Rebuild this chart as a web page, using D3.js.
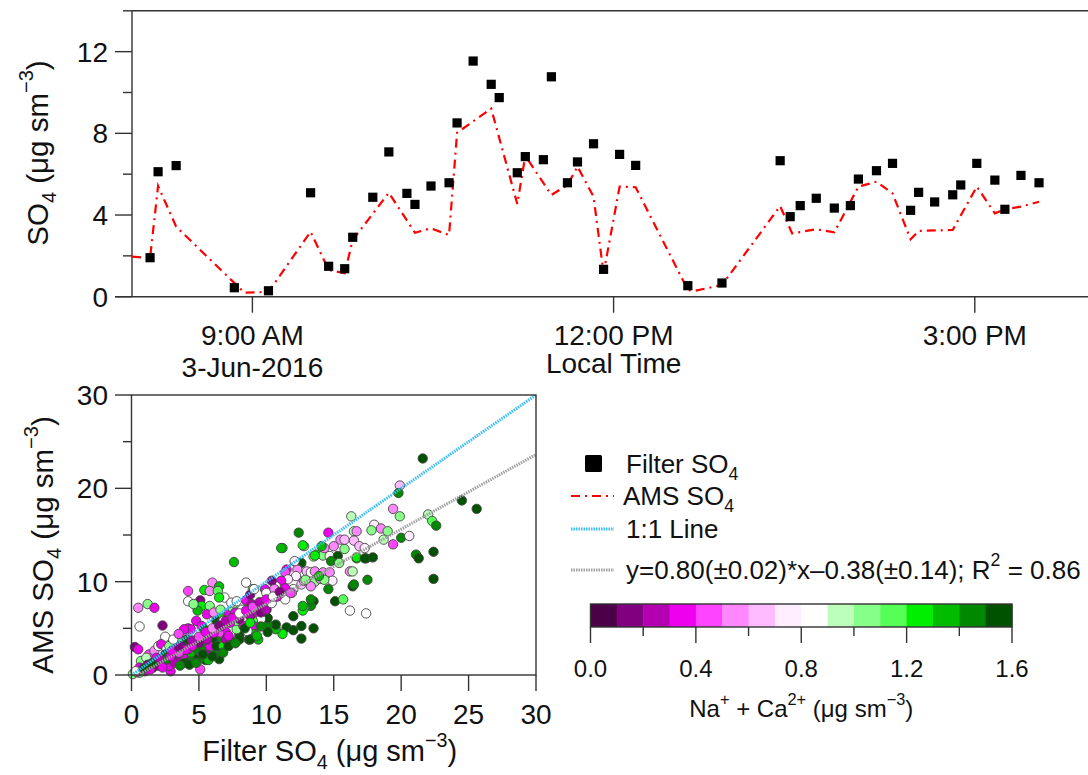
<!DOCTYPE html>
<html>
<head>
<meta charset="utf-8">
<script src="https://cdn.jsdelivr.net/npm/d3@7"></script>
<style>
  html, body { margin: 0; padding: 0; background: #fff; }
  svg { display: block; }
  text { font-family: "Liberation Sans", Arial, sans-serif; fill: #111; }
</style>
</head>
<body>
<svg id="chart" width="1088" height="775"></svg>
<script>
// ---------------- data ----------------
const filterTimes = ["08:09","08:13","08:22","08:51","09:08","09:29","09:38","09:46","09:50","10:00","10:08","10:17","10:21","10:29","10:38","10:42","10:50","10:59","11:03","11:12","11:16","11:25","11:29","11:37","11:42","11:50","11:55","12:03","12:11","12:37","12:54","13:23","13:28","13:33","13:41","13:50","13:58","14:02","14:11","14:19","14:28","14:32","14:40","14:49","14:53","15:01","15:10","15:15","15:23","15:32"];
const filterSO4 = [1.91,6.12,6.42,0.44,0.29,5.09,1.49,1.37,2.91,4.87,7.09,5.06,4.52,5.42,5.58,8.51,11.54,10.40,9.75,6.07,6.86,6.71,10.77,5.58,6.60,7.49,1.34,6.97,6.43,0.54,0.67,6.66,3.92,4.46,4.82,4.34,4.46,5.76,6.17,6.53,4.23,5.11,4.64,4.99,5.47,6.53,5.71,4.28,5.94,5.58];

const amsTimes = ["08:00","08:09","08:13","08:22","08:56","09:08","09:29","09:38","09:46","09:50","10:08","10:21","10:29","10:38","10:42","10:59","11:12","11:16","11:29","11:37","11:42","11:50","11:55","12:03","12:11","12:37","12:40","12:54","13:23","13:29","13:41","13:50","14:02","14:11","14:19","14:28","14:32","14:49","15:01","15:10","15:15","15:23","15:32"];
const amsSO4 = [1.96,1.90,5.42,3.43,0.20,0.23,3.18,1.31,1.15,2.78,5.09,3.13,3.35,3.02,8.03,9.21,4.54,6.90,4.98,5.47,6.37,4.90,1.15,5.39,5.36,0.33,0.28,0.57,4.44,3.10,3.30,3.15,5.39,5.63,5.06,2.81,3.22,3.27,5.39,4.08,4.28,4.41,4.65];

const topYTicks = [0, 4, 8, 12];
const topYMinorTicks = [2, 6, 10, 14];
const topXTicks = ["09:00", "12:00", "15:00"];
const topXTickLabels = ["9:00 AM", "12:00 PM", "3:00 PM"];

// scatter: [Filter SO4, AMS SO4, Na+ + Ca2+]
const scatterPoints = [
[11.2,13.6,1.25],[12.8,13.8,1.05],[7.6,12.1,1.35],[13.7,12.9,1.25],[14.2,12.8,1.05],[14.7,12.75,0.85],[15.3,12.75,1.55],[16.7,12.5,1.35],[17.4,12.5,1.55],[17.9,12.6,1.55],[21.1,12.9,1.45],[14.8,12.2,1.45],[15.4,12.0,1.05],[16.2,11.1,0.55],[16.4,11.1,0.95],[12.2,12.1,0.85],[12.6,12.0,1.55],[11.5,11.3,0.35],[11.4,11.0,0.45],[12.3,11.3,0.55],[13.0,11.1,0.65],[13.3,11.0,0.85],[13.6,11.1,0.55],[14.2,11.0,0.55],[14.7,11.0,0.55],[12.2,10.6,0.75],[11.6,10.25,0.75],[11.1,10.1,0.35],[10.7,9.5,0.85],[10.4,10.1,0.15],[9.9,9.2,0.35],[10.0,8.8,0.85],[10.6,9.2,0.55],[10.9,8.6,0.85],[11.5,8.8,0.85],[12.0,9.2,0.85],[12.6,9.7,0.65],[12.8,10.1,0.65],[13.6,10.0,1.05],[14.0,10.3,0.55],[14.9,10.1,0.75],[15.1,7.9,1.55],[15.7,8.1,1.15],[16.4,9.5,1.55],[16.5,9.7,1.45],[16.2,6.9,0.85],[17.4,6.6,0.85],[17.5,10.2,1.45],[13.5,7.9,1.55],[13.3,7.4,1.45],[12.8,7.2,1.15],[12.7,6.9,1.25],[12.0,6.3,1.55],[12.6,5.25,1.55],[12.6,3.9,1.55],[13.5,5.0,1.55],[11.5,5.1,1.55],[11.2,4.4,1.25],[10.7,4.9,1.35],[10.7,5.4,1.55],[10.1,5.4,1.45],[10.1,6.1,1.55],[10.0,7.0,1.55],[9.5,6.5,0.35],[9.6,6.0,0.85],[9.0,5.8,1.15],[9.1,5.2,0.35],[9.1,4.4,1.35],[9.4,3.8,1.35],[8.7,3.8,1.55],[8.0,4.25,1.55],[8.0,3.8,1.55],[7.5,3.6,1.45],[7.3,3.5,1.55],[7.8,4.9,1.05],[7.0,4.6,0.35],[6.5,4.5,0.45],[6.4,3.6,1.45],[6.5,1.7,1.55],[6.3,2.4,1.45],[5.8,2.0,1.55],[5.6,2.2,0.25],[5.5,1.6,1.55],[5.1,1.75,1.45],[5.1,0.6,0.45],[4.7,1.75,1.55],[4.3,2.0,1.45],[4.4,2.4,1.35],[4.2,2.75,0.35],[3.8,2.0,0.35],[3.6,2.4,0.45],[3.3,1.7,0.25],[2.9,0.4,0.35],[2.8,1.0,0.35],[2.3,1.3,0.25],[2.0,1.0,1.55],[1.6,0.8,0.15],[1.4,0.6,0.35],[1.0,0.4,0.35],[0.6,0.25,1.15],[0.1,0.1,1.05],[0.4,0.3,0.45],[1.0,1.0,0.35],[1.3,2.2,0.45],[0.25,3.0,0.15],[0.5,2.75,0.35],[0.6,5.2,0.85],[0.5,7.2,0.55],[1.2,7.6,1.05],[1.7,7.2,0.35],[2.3,5.3,0.15],[2.5,4.1,0.85],[3.6,3.9,1.15],[3.1,3.5,0.35],[3.95,4.2,0.55],[4.2,5.0,0.35],[4.4,4.9,0.35],[3.9,4.9,0.35],[4.8,5.8,0.35],[5.2,5.25,0.35],[5.4,4.9,1.45],[5.6,4.2,0.35],[5.9,4.4,0.25],[6.0,3.8,1.55],[5.2,3.8,0.35],[4.8,3.5,0.15],[4.4,3.3,0.35],[4.9,2.75,1.45],[4.1,3.8,1.55],[5.3,3.1,1.45],[5.8,3.1,0.35],[6.3,3.1,1.55],[6.8,3.1,1.25],[7.0,3.8,0.25],[7.2,4.2,0.35],[4.2,9.0,0.45],[4.2,7.9,0.85],[5.1,8.0,0.15],[5.4,9.1,1.25],[6.0,9.9,0.55],[6.5,9.5,1.35],[5.8,9.0,0.55],[6.4,9.0,1.15],[6.9,8.3,0.85],[6.5,8.3,1.25],[5.2,7.4,1.25],[5.8,7.4,1.05],[4.9,6.9,1.35],[4.6,7.6,1.05],[5.6,6.5,0.35],[6.2,6.5,0.55],[6.6,6.3,1.25],[6.3,5.8,1.55],[6.8,5.8,0.65],[7.2,6.5,0.35],[7.5,7.2,1.05],[7.4,7.75,0.85],[7.8,7.9,0.85],[8.4,7.0,0.85],[8.5,9.9,0.85],[9.0,9.2,1.05],[8.5,8.0,0.35],[8.9,7.6,0.25],[9.3,7.2,0.35],[9.8,7.75,0.85],[8.8,8.6,0.15],[8.1,6.5,0.55],[7.8,5.8,1.05],[7.3,5.6,0.35],[8.3,5.25,0.35],[8.6,4.7,0.85],[8.0,6.0,0.15],[0.7,1.5,1.05],[1.1,1.85,0.95],[1.7,2.6,0.55],[2.0,3.1,0.85],[2.2,3.3,0.35],[2.6,2.75,0.85],[2.8,3.1,1.05],[3.1,3.8,0.85],[3.5,4.4,0.45],[1.85,1.85,0.35],[2.5,2.2,1.55],[3.0,1.85,0.15],[3.7,3.1,0.15],[3.95,1.3,1.55],[4.3,1.1,1.55],[4.8,1.3,1.45],[5.7,1.6,1.35],[6.0,2.0,1.55],[6.8,2.4,1.45],[5.3,2.2,1.55],[2.1,1.7,0.25],[1.2,1.1,0.15],[0.6,0.8,0.35],[0.3,0.4,0.85],[0.9,0.7,1.55],[1.5,1.25,1.55],[2.7,1.7,1.45],[3.2,1.3,0.25],[3.6,1.0,1.45],[2.3,0.8,0.35],
[14.6,15.25,0.35],[13.5,12.7,1.05],[12.7,13.9,1.25],[11.1,13.6,1.35],[12.4,15.25,1.45],[12.1,12.2,0.75],[15.0,13.8,0.55],[15.8,13.5,1.05],[15.5,14.5,0.55],[15.8,14.5,0.65],[16.3,17.0,0.95],[16.5,15.4,0.95],[16.7,15.4,0.55],[16.5,14.4,0.65],[16.9,13.8,0.65],[17.3,13.6,0.75],[16.7,12.6,1.25],[17.3,12.5,1.55],[18.0,16.1,0.75],[18.5,15.7,0.55],[17.8,15.5,1.05],[19.0,15.4,1.05],[18.7,14.5,0.95],[19.4,14.0,0.45],[19.4,17.8,0.55],[19.9,17.0,1.05],[19.9,20.3,0.65],[19.8,19.5,1.45],[20.0,14.7,1.45],[20.6,14.9,0.75],[21.3,12.5,1.55],[21.6,23.2,1.55],[22.0,17.2,0.95],[22.3,16.5,1.15],[22.6,16.0,1.45],[22.4,13.2,1.55],[22.4,10.3,1.55],[24.5,18.7,1.55],[25.6,17.8,1.55],[14.6,9.2,1.45],[14.3,10.2,1.05],[13.3,9.5,0.55],[12.9,10.2,1.05],[13.9,10.6,1.35],[13.3,8.1,1.45],[12.7,7.4,1.35],[11.9,8.8,0.75],[11.4,8.1,0.85],[14.3,13.6,0.55],[14.1,13.8,1.35],[13.6,12.8,1.25],[12.0,4.8,1.55],[10.1,4.6,1.55],[9.1,9.2,0.85],
[6.1,6.7,0.55],[6.6,7.0,1.05],[7.2,5.9,0.85],[7.7,6.7,0.35],[8.2,7.0,0.85],[8.8,6.3,0.25],[9.2,7.0,0.35],[9.4,7.4,0.45],[9.6,6.7,0.15],[10.0,7.0,0.25],[10.4,7.7,0.85],[10.8,8.4,0.35],[11.1,8.8,0.75],[11.4,9.3,0.35],[11.8,8.8,0.45],[6.6,5.2,0.35],[6.1,4.5,0.35],[5.6,3.8,0.25],[5.0,3.4,0.15],[4.5,3.1,0.35],[4.0,2.7,0.35],[3.5,2.4,0.45],[2.9,2.0,0.35],[7.2,3.1,1.55],[7.7,3.4,1.45],[8.8,3.8,1.55],[9.3,4.2,1.35],[8.4,5.0,1.55],[8.8,5.6,1.25],[9.6,5.2,1.45],
[3.0,2.6,0.35],[3.5,3.0,0.15],[4.5,3.7,0.25],[5.0,4.1,0.45],[5.5,4.6,0.35],[6.0,5.0,0.55],[6.5,5.3,0.15],[7.0,5.8,0.25],[7.5,6.1,0.35],[8.0,6.6,0.85],[8.5,6.9,0.35],[9.0,7.3,0.45],[9.5,7.8,0.25],[10.0,8.1,0.35],[10.5,8.4,0.85],[11.0,8.9,0.15]
];

const scatterXTicks = [0, 5, 10, 15, 20, 25, 30];
const scatterYTicks = [0, 10, 20, 30];
const scatterYMinorTicks = [5, 15, 25];
const fitSlope = 0.80, fitIntercept = -0.38;

const colorbarColors = ["#4b0047","#80007f","#b300b0","#ee00ee","#ff44ff","#ff88ff","#ffbbff","#ffeeff","#ffffff","#bbffbb","#88ff88","#55ff55","#00ee00","#00bb00","#008800","#005200"];
const colorbarTicks = [0, 0.4, 0.8, 1.2, 1.6];
const colorbarMinorTicks = [0.2, 0.6, 1.0, 1.4];

// ---------------- helpers ----------------
const svg = d3.select("#chart");
const parseT = d3.timeParse("%Y-%m-%d %H:%M");
const T = s => parseT("2016-06-03 " + s);
const AX = "#333";
const TICKF = 28, TITLEF = 29.5, LEGF = 26;

function rich(sel, parts, size) {
  let shift = 0;
  parts.forEach(([t, kind]) => {
    const target = kind === "sub" ? size * 0.28 : kind === "sup" ? -size * 0.5 : 0;
    const ts = sel.append("tspan").text(t).attr("dy", target - shift);
    if (kind) ts.attr("font-size", size * 0.68);
    shift = target;
  });
}

// ---------------- top chart ----------------
const tx = d3.scaleTime().domain([T("08:00"), T("16:00")]).range([132, 132 + 8 * 120.4]);
const ty = d3.scaleLinear().domain([0, 14]).range([296.7, 296.7 - 14 * 20.42]);

const defs = svg.append("defs");
defs.append("clipPath").attr("id", "topclip")
  .append("rect").attr("x", 132).attr("y", 8).attr("width", 960).attr("height", 292);

const topG = svg.append("g");
topG.append("line").attr("x1", 132).attr("x2", 1088).attr("y1", ty(14)).attr("y2", ty(14)).attr("stroke", AX).attr("stroke-width", 1.4);
topG.append("line").attr("x1", 132).attr("x2", 132).attr("y1", ty(14)).attr("y2", ty(0)).attr("stroke", AX).attr("stroke-width", 1.4);
topG.append("line").attr("x1", 115).attr("x2", 1088).attr("y1", ty(0)).attr("y2", ty(0)).attr("stroke", AX).attr("stroke-width", 1.4);
topG.selectAll(".ymaj").data(topYTicks).join("line")
  .attr("x1", 115).attr("x2", 132).attr("y1", d => ty(d)).attr("y2", d => ty(d)).attr("stroke", AX).attr("stroke-width", 1.4);
topG.selectAll(".ymin").data(topYMinorTicks).join("line")
  .attr("x1", 123).attr("x2", 132).attr("y1", d => ty(d)).attr("y2", d => ty(d)).attr("stroke", AX).attr("stroke-width", 1.4);
topG.selectAll(".ylab").data(topYTicks).join("text")
  .attr("x", 108).attr("y", d => ty(d) + 10).attr("text-anchor", "end").attr("font-size", TICKF).text(d => d);
topG.selectAll(".xt").data(topXTicks).join("line")
  .attr("x1", d => tx(T(d))).attr("x2", d => tx(T(d))).attr("y1", ty(0)).attr("y2", ty(0) + 16).attr("stroke", AX).attr("stroke-width", 1.4);
topG.selectAll(".xl").data(topXTicks).join("text")
  .attr("x", d => tx(T(d))).attr("y", 345).attr("text-anchor", "middle").attr("font-size", TICKF)
  .text((d, i) => topXTickLabels[i]);
topG.append("text").attr("x", tx(T("09:00"))).attr("y", 377).attr("text-anchor", "middle").attr("font-size", TICKF).text("3-Jun-2016");
topG.append("text").attr("x", tx(T("12:00"))).attr("y", 373).attr("text-anchor", "middle").attr("font-size", TICKF).text("Local Time");
const tyl = topG.append("text").attr("transform", "translate(48,153) rotate(-90)").attr("text-anchor", "middle").attr("font-size", TITLEF);
rich(tyl, [["SO", null], ["4", "sub"], [" (μg sm", null], ["−3", "sup"], [")", null]], TITLEF);

const amsData = amsTimes.map((t, i) => [T(t), amsSO4[i]]);
topG.append("path").datum(amsData).attr("clip-path", "url(#topclip)")
  .attr("d", d3.line().x(d => tx(d[0])).y(d => ty(d[1])))
  .attr("fill", "none").attr("stroke", "#ff0000").attr("stroke-width", 2.2)
  .attr("stroke-dasharray", "9,5,2,5");
const fData = filterTimes.map((t, i) => [T(t), filterSO4[i]]);
topG.selectAll(".sq").data(fData).join("rect")
  .attr("x", d => tx(d[0]) - 4.6).attr("y", d => ty(d[1]) - 4.6).attr("width", 9.2).attr("height", 9.2).attr("fill", "#000");

// ---------------- scatter ----------------
const sx = d3.scaleLinear().domain([0, 30]).range([131.5, 536]);
const sy = d3.scaleLinear().domain([0, 30]).range([675, 395]);
const color = d3.scaleQuantize().domain([0, 1.6]).range(colorbarColors);

defs.append("clipPath").attr("id", "scclip")
  .append("rect").attr("x", sx(0)).attr("y", sy(30)).attr("width", sx(30) - sx(0)).attr("height", sy(0) - sy(30));

const sc = svg.append("g");
sc.selectAll("circle").data(scatterPoints).join("circle")
  .attr("cx", d => sx(d[0])).attr("cy", d => sy(d[1])).attr("r", 4.7)
  .attr("fill", d => color(d[2])).attr("stroke", "#444").attr("stroke-width", 0.9);

const lineGen = d3.line().x(d => sx(d[0])).y(d => sy(d[1]));
sc.append("path").datum([[0, fitIntercept], [30, fitSlope * 30 + fitIntercept]]).attr("clip-path", "url(#scclip)")
  .attr("d", lineGen).attr("fill", "none").attr("stroke", "#a0a0a0").attr("stroke-width", 3).attr("stroke-dasharray", "1.5,1");
sc.append("path").datum([[0, 0], [30, 30]]).attr("clip-path", "url(#scclip)")
  .attr("d", lineGen).attr("fill", "none").attr("stroke", "#3bbdf5").attr("stroke-width", 3).attr("stroke-dasharray", "1.5,1");

sc.append("rect").attr("x", sx(0)).attr("y", sy(30)).attr("width", sx(30) - sx(0)).attr("height", sy(0) - sy(30))
  .attr("fill", "none").attr("stroke", AX).attr("stroke-width", 1.4);
sc.selectAll(".sym").data(scatterYTicks).join("line")
  .attr("x1", 115).attr("x2", sx(0)).attr("y1", d => sy(d)).attr("y2", d => sy(d)).attr("stroke", AX).attr("stroke-width", 1.4);
sc.selectAll(".symi").data(scatterYMinorTicks).join("line")
  .attr("x1", 123).attr("x2", sx(0)).attr("y1", d => sy(d)).attr("y2", d => sy(d)).attr("stroke", AX).attr("stroke-width", 1.4);
sc.selectAll(".syl").data(scatterYTicks).join("text")
  .attr("x", 108).attr("y", d => sy(d) + 10).attr("text-anchor", "end").attr("font-size", TICKF).text(d => d);
sc.selectAll(".sxm").data(scatterXTicks).join("line")
  .attr("x1", d => sx(d)).attr("x2", d => sx(d)).attr("y1", sy(0)).attr("y2", sy(0) + 16).attr("stroke", AX).attr("stroke-width", 1.4);
sc.selectAll(".sxl").data(scatterXTicks).join("text")
  .attr("x", d => sx(d)).attr("y", 724).attr("text-anchor", "middle").attr("font-size", TICKF).text(d => d);

const sxl = sc.append("text").attr("x", (sx(0) + sx(30)) / 2 - 4).attr("y", 761).attr("text-anchor", "middle").attr("font-size", 29);
rich(sxl, [["Filter SO", null], ["4", "sub"], [" (μg sm", null], ["−3", "sup"], [")", null]], 29);
const syl = sc.append("text").attr("transform", "translate(53,545) rotate(-90)").attr("text-anchor", "middle").attr("font-size", TITLEF);
rich(syl, [["AMS SO", null], ["4", "sub"], [" (μg sm", null], ["−3", "sup"], [")", null]], TITLEF);

// ---------------- legend ----------------
const lg = svg.append("g");
lg.append("rect").attr("x", 585).attr("y", 455).attr("width", 17).attr("height", 17).attr("rx", 1.5).attr("fill", "#000");
rich(lg.append("text").attr("x", 626).attr("y", 473).attr("font-size", LEGF), [["Filter SO", null], ["4", "sub"]], LEGF);
lg.append("line").attr("x1", 571).attr("x2", 614).attr("y1", 496).attr("y2", 496)
  .attr("stroke", "#ff0000").attr("stroke-width", 2.2).attr("stroke-dasharray", "9,5,2,5");
rich(lg.append("text").attr("x", 623).attr("y", 505).attr("font-size", LEGF), [["AMS SO", null], ["4", "sub"]], LEGF);
lg.append("line").attr("x1", 571).attr("x2", 614).attr("y1", 529).attr("y2", 529)
  .attr("stroke", "#3bbdf5").attr("stroke-width", 3).attr("stroke-dasharray", "1.5,1");
lg.append("text").attr("x", 626).attr("y", 538).attr("font-size", LEGF).text("1:1 Line");
lg.append("line").attr("x1", 571).attr("x2", 614).attr("y1", 570).attr("y2", 570)
  .attr("stroke", "#a0a0a0").attr("stroke-width", 3).attr("stroke-dasharray", "1.5,1");
rich(lg.append("text").attr("x", 626).attr("y", 579).attr("font-size", LEGF),
  [["y=0.80(±0.02)*x–0.38(±0.14); R", null], ["2", "sup"], [" = 0.86", null]], LEGF);

// ---------------- colorbar ----------------
const cx = d3.scaleLinear().domain([0, 1.6]).range([590.5, 1012]);
const cb = svg.append("g");
cb.selectAll(".cell").data(colorbarColors).join("rect")
  .attr("x", (d, i) => cx(i * 0.1)).attr("width", (d, i) => cx((i + 1) * 0.1) - cx(i * 0.1) + 0.5)
  .attr("y", 604).attr("height", 23).attr("fill", d => d);
cb.append("rect").attr("x", cx(0)).attr("y", 604).attr("width", cx(1.6) - cx(0)).attr("height", 23)
  .attr("fill", "none").attr("stroke", AX).attr("stroke-width", 1.4);
cb.selectAll(".cbt").data(colorbarTicks).join("line")
  .attr("x1", d => cx(d)).attr("x2", d => cx(d)).attr("y1", 627).attr("y2", 643).attr("stroke", AX).attr("stroke-width", 1.4);
cb.selectAll(".cbm").data(colorbarMinorTicks).join("line")
  .attr("x1", d => cx(d)).attr("x2", d => cx(d)).attr("y1", 627).attr("y2", 636).attr("stroke", AX).attr("stroke-width", 1.4);
cb.selectAll(".cbl").data(colorbarTicks).join("text")
  .attr("x", d => cx(d)).attr("y", 677).attr("text-anchor", "middle").attr("font-size", 24).text(d => d.toFixed(1));
rich(cb.append("text").attr("x", cx(0.8)).attr("y", 717).attr("text-anchor", "middle").attr("font-size", 24),
  [["Na", null], ["+", "sup"], [" + Ca", null], ["2+", "sup"], [" (μg sm", null], ["−3", "sup"], [")", null]], 24);
</script>
</body>
</html>
